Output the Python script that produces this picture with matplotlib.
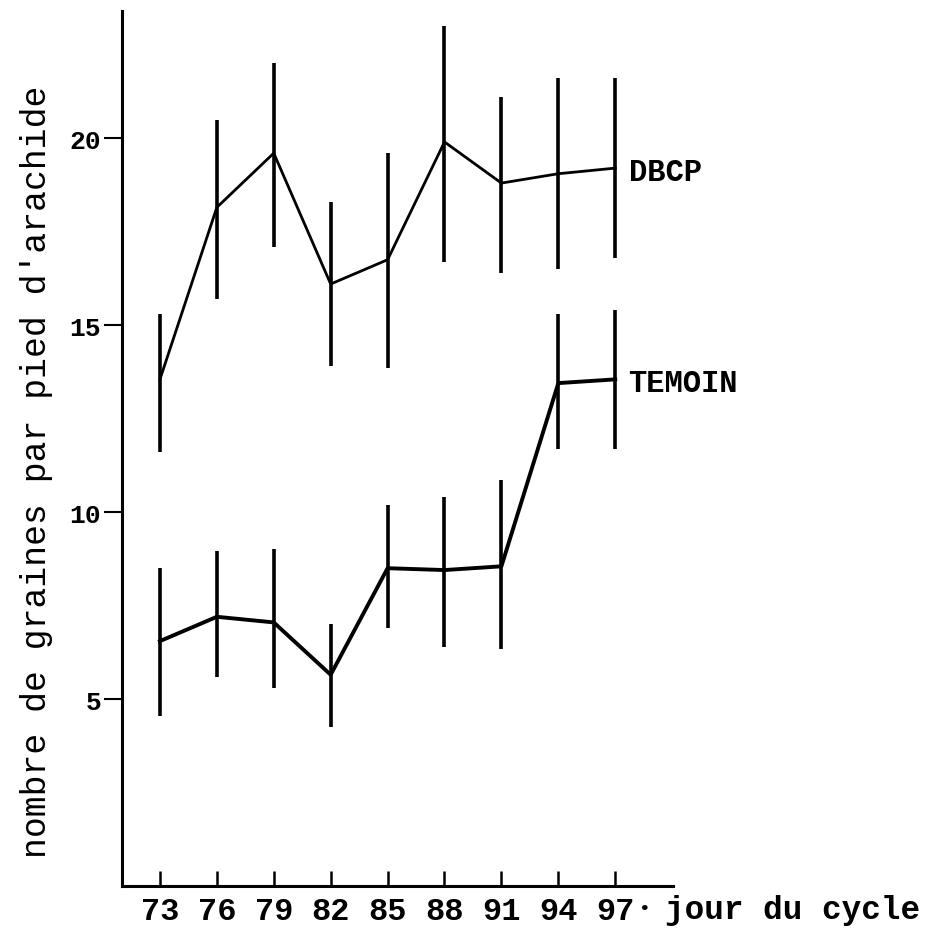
import matplotlib
matplotlib.use("Agg")
import matplotlib.pyplot as plt

# sampling days of the cycle
days = [73, 76, 79, 82, 85, 88, 91, 94, 97]

# mean number of seeds per plant, with upper / lower ends of the bars
dbcp_mean = [13.55, 18.15, 19.6, 16.1, 16.75, 19.9, 18.8, 19.05, 19.2]
dbcp_high = [15.3, 20.5, 22.0, 18.3, 19.6, 23.0, 21.1, 21.6, 21.6]
dbcp_low = [11.6, 15.7, 17.1, 13.9, 13.85, 16.7, 16.4, 16.5, 16.8]

temoin_mean = [6.55, 7.2, 7.05, 5.65, 8.5, 8.45, 8.55, 13.45, 13.55]
temoin_high = [8.5, 8.95, 9.0, 7.0, 10.2, 10.4, 10.85, 15.3, 15.4]
temoin_low = [4.55, 5.6, 5.3, 4.25, 6.9, 6.4, 6.35, 11.7, 11.7]

y_ticks = [5, 10, 15, 20]

# typewriter look
plt.rcParams["font.family"] = ["Liberation Mono", "DejaVu Sans Mono"]
plt.rcParams["font.weight"] = "bold"

fig = plt.figure(figsize=(9.27, 9.29), dpi=100)
ax = fig.add_axes([0.1316, 0.0452, 0.5945, 0.9418])

ax.vlines(days, dbcp_low, dbcp_high, color="black", lw=2.6)
ax.vlines(days, temoin_low, temoin_high, color="black", lw=2.6)
ax.plot(days, dbcp_mean, color="black", lw=2.0)
ax.plot(days, temoin_mean, color="black", lw=2.8)

ax.text(97.7, dbcp_mean[-1] - 0.1, "DBCP", fontsize=22, va="center", ha="left")
ax.text(97.7, temoin_mean[-1] - 0.1, "TEMOIN", fontsize=22, va="center", ha="left")

ax.set_xlim(71, 100.05)
ax.set_ylim(0, 23.4)

for side in ("top", "right"):
    ax.spines[side].set_visible(False)
for side in ("left", "bottom"):
    ax.spines[side].set_linewidth(2.2)

ax.set_xticks(days)
ax.set_xticklabels([str(d) for d in days], fontsize=23)
ax.set_yticks(y_ticks)
ax.set_yticklabels([str(v) for v in y_ticks], fontsize=19)
ax.tick_params(axis="x", direction="in", length=11, width=1.8, pad=7)
ax.tick_params(axis="y", direction="out", length=13, width=1.5, pad=2)

ax.set_ylabel("nombre de graines par pied d'arachide", fontsize=25)
ax.yaxis.set_label_coords(-0.125, 0.474)

# raised dot after the last day, then the axis title
fig.text(0.696, 0.0215, "•", fontsize=14, ha="center", va="center")
fig.text(0.717, 0.0194, "jour du cycle", fontsize=23.5, ha="left", va="center")

fig.savefig("out.png", dpi=100)
